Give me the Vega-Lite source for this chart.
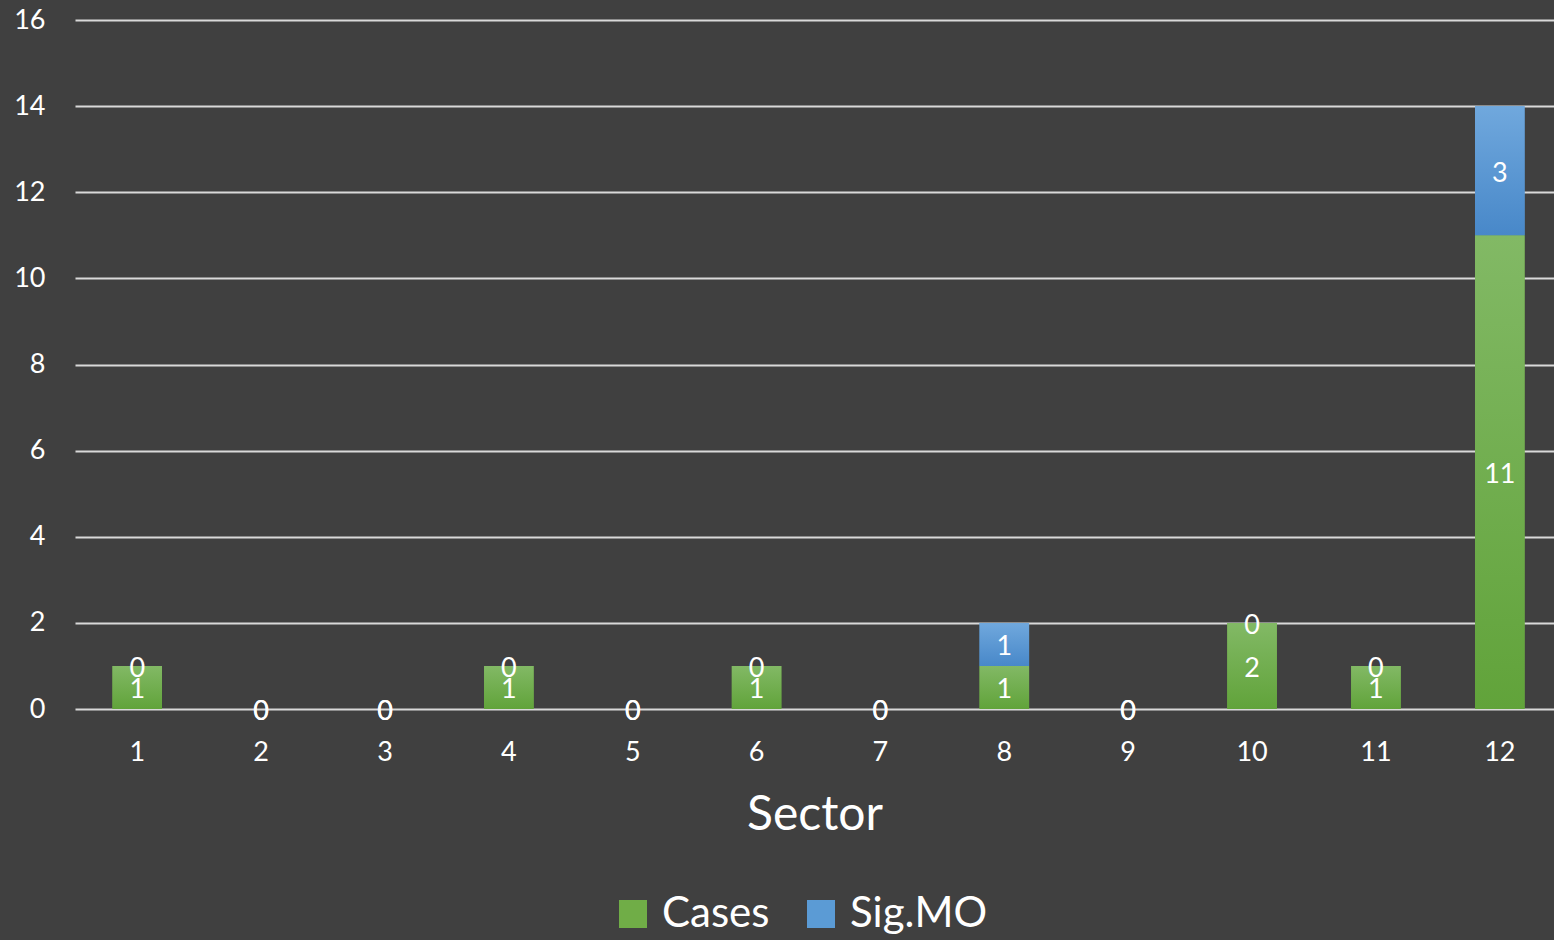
{
  "$schema": "https://vega.github.io/schema/vega-lite/v6.json",
  "width": 1479,
  "height": 689,
  "autosize": {"type": "none"},
  "padding": {"left": 75, "top": 20, "right": 0, "bottom": 231},
  "background": "#404040",
  "config": {
    "view": {"stroke": null},
    "font": "Lato",
    "axis": {"labelFont": "Lato", "titleFont": "Lato", "labelColor": "#ffffff", "titleColor": "#ffffff"},
    "axisY": {"grid": true, "gridColor": "#d9d9d9", "gridWidth": 2, "domain": false, "ticks": false, "labelFontSize": 27, "labelPadding": 30, "tickCount": 8},
    "axisX": {"grid": false, "domain": false, "ticks": false, "labelFontSize": 27, "labelPadding": 30, "labelAngle": 0, "titleFontSize": 48, "titleFontWeight": "normal", "titlePadding": 26},
    "legend": {"labelFont": "Lato", "labelColor": "#ffffff", "labelFontSize": 42}
  },
  "data": {
    "values": [
      {"sector": 1, "series": "Cases", "value": 1},
      {"sector": 1, "series": "Sig.MO", "value": 0},
      {"sector": 2, "series": "Cases", "value": 0},
      {"sector": 2, "series": "Sig.MO", "value": 0},
      {"sector": 3, "series": "Cases", "value": 0},
      {"sector": 3, "series": "Sig.MO", "value": 0},
      {"sector": 4, "series": "Cases", "value": 1},
      {"sector": 4, "series": "Sig.MO", "value": 0},
      {"sector": 5, "series": "Cases", "value": 0},
      {"sector": 5, "series": "Sig.MO", "value": 0},
      {"sector": 6, "series": "Cases", "value": 1},
      {"sector": 6, "series": "Sig.MO", "value": 0},
      {"sector": 7, "series": "Cases", "value": 0},
      {"sector": 7, "series": "Sig.MO", "value": 0},
      {"sector": 8, "series": "Cases", "value": 1},
      {"sector": 8, "series": "Sig.MO", "value": 1},
      {"sector": 9, "series": "Cases", "value": 0},
      {"sector": 9, "series": "Sig.MO", "value": 0},
      {"sector": 10, "series": "Cases", "value": 2},
      {"sector": 10, "series": "Sig.MO", "value": 0},
      {"sector": 11, "series": "Cases", "value": 1},
      {"sector": 11, "series": "Sig.MO", "value": 0},
      {"sector": 12, "series": "Cases", "value": 11},
      {"sector": 12, "series": "Sig.MO", "value": 3}
    ]
  },
  "encoding": {
    "x": {"field": "sector", "type": "ordinal", "title": "Sector", "scale": {"paddingInner": 0.6, "paddingOuter": 0.27, "align": 0.56}}
  },
  "layer": [
    {
      "transform": [
        {"stack": "value", "groupby": ["sector"], "sort": [{"field": "series", "order": "ascending"}], "as": ["v0", "v1"]}
      ],
      "mark": {"type": "bar"},
      "encoding": {
        "y": {"field": "v1", "type": "quantitative", "title": null, "scale": {"domain": [0, 16]}},
        "y2": {"field": "v0"},
        "color": {
          "field": "series", "type": "nominal", "title": null,
          "scale": {"domain": ["Cases", "Sig.MO"], "range": ["#70ad47", "#5b9bd5"]},
          "legend": {"orient": "none", "direction": "horizontal", "legendX": 537, "legendY": 873, "symbolType": "square", "symbolSize": 784, "symbolStrokeWidth": 0, "labelOffset": 8, "columnPadding": 30, "symbolOpacity": 1}
        }
      }
    },
    {
      "transform": [
        {"stack": "value", "groupby": ["sector"], "sort": [{"field": "series", "order": "ascending"}], "as": ["v0", "v1"]},
        {"filter": "datum.series === 'Cases'"}
      ],
      "mark": {"type": "bar", "color": {"gradient": "linear", "x1": 0, "y1": 0, "x2": 0, "y2": 1, "stops": [{"offset": 0, "color": "#82b965"}, {"offset": 1, "color": "#61a33a"}]}},
      "encoding": {
        "y": {"field": "v1", "type": "quantitative", "title": null},
        "y2": {"field": "v0"}
      }
    },
    {
      "transform": [
        {"stack": "value", "groupby": ["sector"], "sort": [{"field": "series", "order": "ascending"}], "as": ["v0", "v1"]},
        {"filter": "datum.series === 'Sig.MO'"}
      ],
      "mark": {"type": "bar", "color": {"gradient": "linear", "x1": 0, "y1": 0, "x2": 0, "y2": 1, "stops": [{"offset": 0, "color": "#70a8dd"}, {"offset": 1, "color": "#4888c9"}]}},
      "encoding": {
        "y": {"field": "v1", "type": "quantitative", "title": null},
        "y2": {"field": "v0"}
      }
    },
    {
      "mark": {"type": "text", "color": "#ffffff", "fontSize": 27, "align": "center", "baseline": "middle", "dy": 3},
      "encoding": {
        "y": {"field": "value", "type": "quantitative", "stack": "zero", "bandPosition": 0.5, "title": null},
        "detail": {"field": "series"},
        "text": {"field": "value", "type": "quantitative"}
      }
    }
  ]
}
